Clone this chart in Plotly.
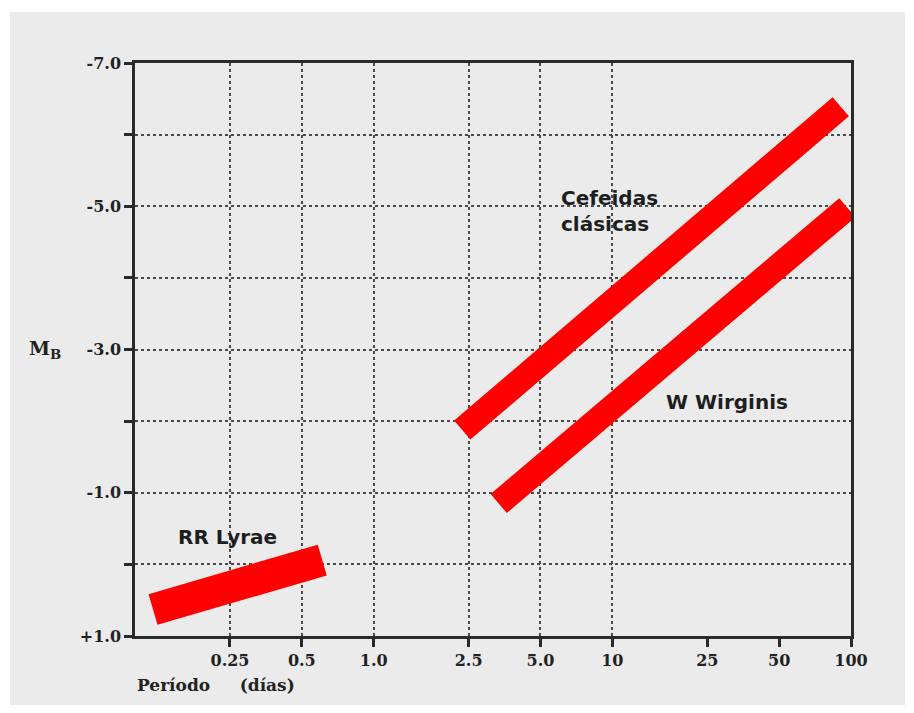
import numpy as np
import plotly.graph_objects as go

# ---- data ----
rr_period = [0.119, 0.609]
rr_mag = [0.63, -0.06]
cef_period = [2.35, 90.6]
cef_mag = [-1.875, -6.39]
wv_period = [3.34, 96.5]
wv_mag = [-0.85, -4.98]

x_tickvals = [0.25, 0.5, 1.0, 2.5, 5.0, 10, 25, 50, 100]
x_ticktext = ["0.25", "0.5", "1.0", "2.5", "5.0", "10", "25", "50", "100"]
x_gridvals = [0.25, 0.5, 1.0, 2.5, 5.0, 10]
y_tickvals = [-7, -5, -3, -1, 1]
y_ticktext = ["-7.0", "-5.0", "-3.0", "-1.0", "+1.0"]
y_minorvals = [-6, -4, -2, 0]

labels = [
    ("RR Lyrae", 0.245, -0.38, "center"),
    ("Cefeidas<br>clásicas", 6.0, -4.93, "left"),
    ("W Wirginis", 30.3, -2.27, "center"),
]

RED = "#ff0000"
AXC = "#2a2a2a"
GRID = "#4a4a4a"
serif_bold = dict(family="DejaVu Serif", size=16, color="#222222", weight="bold")

fig = go.Figure()
for xs, ys, w in [(rr_period, rr_mag, 32), (cef_period, cef_mag, 25), (wv_period, wv_mag, 25)]:
    fig.add_trace(go.Scatter(x=xs, y=ys, mode="lines",
                             line=dict(color=RED, width=w),
                             cliponaxis=False, showlegend=False, hoverinfo="skip"))

# invisible trace on grid axis
fig.add_trace(go.Scatter(x=[1], y=[0], xaxis="x2", mode="markers",
                         marker=dict(opacity=0), showlegend=False, hoverinfo="skip"))

for text, xv, yv, anchor in labels:
    fig.add_annotation(x=np.log10(xv), y=yv, text=text, showarrow=False,
                       xanchor=anchor, yanchor="middle", align="left",
                       font=dict(family="DejaVu Sans", size=20, color="#1e1e1e", weight="bold"))

fig.add_annotation(xref="paper", yref="paper", x=-0.126, y=0.5,
                   text="M<sub>B</sub>", showarrow=False, xanchor="center", yanchor="middle",
                   font=dict(family="DejaVu Serif", size=19, color="#222222", weight="bold"))
fig.add_annotation(xref="paper", yref="paper", x=0.0, y=-0.085,
                   text="Período     (días)", showarrow=False, xanchor="left", yanchor="middle",
                   font=dict(family="DejaVu Serif", size=17, color="#222222", weight="bold"))

fig.add_shape(type="rect", xref="paper", yref="paper",
              x0=-0.1746, x1=1.0754, y0=-0.1204, y1=1.089,
              fillcolor="#ebebeb", line=dict(width=0), layer="below")

fig.update_layout(
    width=898, height=697,
    margin=dict(l=127, r=55, t=55, b=69),
    paper_bgcolor="#ffffff",
    plot_bgcolor="#f2f2f2",
    xaxis=dict(type="log", range=[-1, 2], tickvals=x_tickvals, ticktext=x_ticktext,
               showgrid=False, zeroline=False, showline=True, mirror=True,
               linecolor=AXC, linewidth=2.5, ticks="outside", ticklen=8, tickwidth=2.5,
               tickcolor=AXC, tickfont=serif_bold),
    xaxis2=dict(type="log", range=[-1, 2], overlaying="x", tickvals=x_gridvals,
                showticklabels=False, ticks="", showgrid=True, gridcolor=GRID,
                griddash="dot", gridwidth=1.6, zeroline=False, showline=False),
    yaxis=dict(range=[1, -7], tickvals=y_tickvals, ticktext=y_ticktext,
               showgrid=True, gridcolor=GRID, griddash="dot", gridwidth=1.6,
               zeroline=False, showline=True, mirror=True, linecolor=AXC, linewidth=2.5,
               ticks="outside", ticklen=8, tickwidth=2.5, tickcolor=AXC,
               tickfont=serif_bold,
               minor=dict(tickvals=y_minorvals, ticks="outside", ticklen=8, tickwidth=2.5,
                          tickcolor=AXC, showgrid=True, gridcolor=GRID, griddash="dot",
                          gridwidth=1.6)),
)

fig.write_html("out.html")
